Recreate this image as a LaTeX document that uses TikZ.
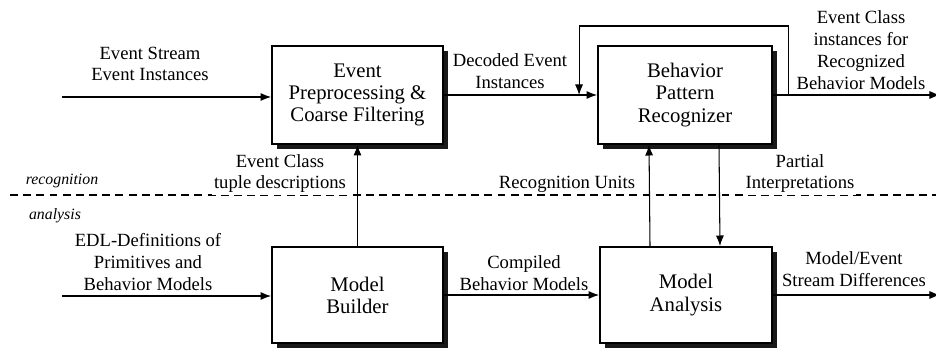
\documentclass[tikz,border=0pt]{standalone}
\usepackage{fontspec}
\setmainfont{Liberation Serif}
\usetikzlibrary{arrows.meta,shadows}

\begin{document}
\begin{tikzpicture}[x=0.02cm,y=0.02cm,
  blk/.style={draw, line width=1.1pt, fill=white, minimum width=3.42cm,
    minimum height=1.96cm, align=center, font=\fontsize{11.8}{12.6}\selectfont,
    drop shadow={shadow xshift=3pt, shadow yshift=-3pt, fill=black, opacity=0.9}},
  lbl/.style={align=center, inner sep=1pt, font=\fontsize{10.6}{12.4}\selectfont},
  side/.style={inner sep=1pt, font=\fontsize{9}{10}\selectfont\itshape},
  flow/.style={-{Latex[length=6pt,width=4.6pt]}, line width=0.6pt}]

\useasboundingbox (0,0) rectangle (936,352);

% dashed border between the two parts
\coordinate (d1) at (10,157);
\coordinate (d2) at (936,157);
\draw[line width=0.6pt, dash pattern=on 4.5pt off 3pt] (d1) -- (d2);

\node[blk] (v1) at (357.5,257) {Event\\Preprocessing \&\\Coarse Filtering};
\node[blk, minimum width=3.48cm] (v2) at (685,257) {Behavior\\Pattern\\Recognizer};
\node[blk, minimum height=1.92cm] (v3) at (357.5,57) {Model\\Builder};
\node[blk, minimum width=3.44cm, minimum height=1.92cm] (v4) at (686,57) {Model\\Analysis};

\coordinate (v5) at (62,255);
\coordinate (v6) at (62,56);
\coordinate (v7) at (940,257);
\coordinate (v8) at (940,57);
\coordinate (v9) at ([xshift=0.32cm]v2.east);
\coordinate (v10) at ([xshift=-0.36cm]v2.west);

\draw [flow] (v5) -- (v5 -| v1.west);
\draw [flow] (v1) -- (v2);
\draw [flow] (v2) -- (v7);
\draw [flow] (v9) -- ++(0,69) -| (v10);
\draw [flow] (v6) -- (v6 -| v3.west);
\draw [flow] (v3) -- (v4);
\draw [flow] (v4) -- (v8);
\draw [flow] (v3) -- (v1);
\draw [flow] ([xshift=-0.72cm]v4.north) -- ([xshift=-0.72cm]v2.south);
\draw [flow] ([xshift=0.68cm]v2.south) -- ([xshift=0.68cm]v4.north);

\node[lbl] (v11) at (150,288) {Event Stream\\Event Instances};
\node[lbl] (v12) at (510,281) {Decoded Event\\Instances};
\node[lbl] (v13) at (861,302) {Event Class\\instances for\\Recognized\\Behavior Models};
\node[lbl, fill=white] (v14) at (280,178.5) {Event Class\\tuple descriptions};
\node[lbl, fill=white] (v15) at (567,168) {Recognition Units};
\node[lbl, fill=white] (v16) at (800,178.5) {Partial\\Interpretations};
\node[lbl] (v17) at (148,90) {EDL-Definitions of\\Primitives and\\Behavior Models};
\node[lbl] (v18) at (524,79) {Compiled\\Behavior Models};
\node[lbl] (v19) at (854,83) {Model/Event\\Stream Differences};
\node[side] (v20) at (62,171) {recognition};
\node[side] (v21) at (55,136) {analysis};
\end{tikzpicture}
\end{document}
